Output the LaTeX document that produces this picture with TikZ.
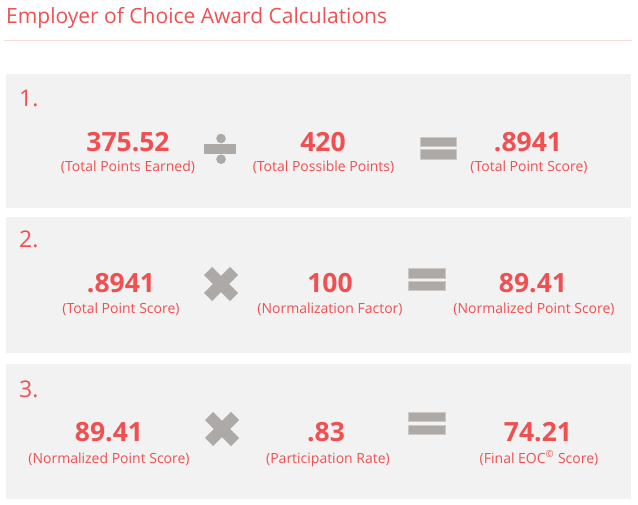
\documentclass[tikz,border=0pt]{standalone}
\usepackage{fontspec}
\setmainfont{Open Sans}
\usetikzlibrary{positioning}

\definecolor{eocred}{RGB}{240,80,82}
\definecolor{panelgray}{RGB}{242,242,242}
\definecolor{opgray}{RGB}{173,169,166}
\definecolor{opedge}{RGB}{203,200,198}
\definecolor{rulepink}{RGB}{250,220,218}

\tikzset{
  panel/.style={fill=panelgray, draw=none},
  value/.style={text=eocred, font=\fontsize{26.5}{30}\selectfont\bfseries, inner sep=0pt, anchor=base},
  caption/.style={text=eocred, font=\fontsize{14}{17}\selectfont, inner sep=0pt, anchor=base},
  stepno/.style={text=eocred, font=\fontsize{23}{27}\selectfont, inner sep=0pt, anchor=base west},
  opbar/.style={fill=opgray, draw=opedge, line width=0.8pt},
  opcross/.style={draw=opgray, line width=11.5pt, line cap=butt},
}

\begin{document}
\begin{tikzpicture}[x=1pt,y=-1pt]
    \useasboundingbox (0,0) rectangle (638,505);

    % Title and rule
    \node (title) [text=eocred, font=\fontsize{21}{25}\selectfont, inner sep=0pt, anchor=base west] at (6,24) {Employer of Choice Award Calculations};
    \draw [rulepink, line width=0.8pt] (4,40) -- (632,40);

    % Panels
    \fill [panel] (6,74) rectangle (631,208);
    \fill [panel] (6,217) rectangle (631,353);
    \fill [panel] (6,364) rectangle (631,499);

    % Step numbers
    \node (step1) [stepno] at (19,107) {1.};
    \node (step2) [stepno] at (19,248) {2.};
    \node (step3) [stepno] at (19,398) {3.};

    % Row 1: division
    \node (earned)    [value]   at (128,152)   {375.52};
    \node (earnedlbl) [caption] at (128,172) {(Total Points Earned)};
    \node (possible)    [value]   at (323,152)   {420};
    \node (possiblelbl) [caption] at (323.5,172) {(Total Possible Points)};
    \node (score1)    [value]   at (528,152)   {.8941};
    \node (score1lbl) [caption] at (529,172) {(Total Point Score)};

    \fill [opgray] (204,144) rectangle (236,154);
    \fill [opgray] (221,138.5) circle (4.8);
    \fill [opgray] (221,159.2) circle (4.8);

    \draw [opbar] (420,137) rectangle (456.5,146.5);
    \draw [opbar] (420,149.5) rectangle (456.5,159.5);

    % Row 2: multiplication
    \node (score2)    [value]   at (121,293)   {.8941};
    \node (score2lbl) [caption] at (121,314) {(Total Point Score)};
    \node (factor)    [value]   at (330,293)   {100};
    \node (factorlbl) [caption] at (330,314) {(Normalization Factor)};
    \node (norm2)    [value]   at (533,293)   {89.41};
    \node (norm2lbl) [caption] at (534,314) {(Normalized Point Score)};

    \draw [opcross] (208,271) -- (234,297);
    \draw [opcross] (208,297) -- (234,271);

    \draw [opbar] (408,268.5) rectangle (445,278);
    \draw [opbar] (408,281) rectangle (445,290.5);

    % Row 3: multiplication
    \node (norm3)    [value]   at (109,442)   {89.41};
    \node (norm3lbl) [caption] at (109,463) {(Normalized Point Score)};
    \node (rate)    [value]   at (326,442)   {.83};
    \node (ratelbl) [caption] at (328,463) {(Participation Rate)};
    \node (final)    [value]   at (538,442)   {74.21};
    \node (finallbl) [caption] at (539,463) {(Final EOC\textsuperscript{©} Score)};

    \draw [opcross] (209,416) -- (235,442);
    \draw [opcross] (209,442) -- (235,416);

    \draw [opbar] (408,412.5) rectangle (445,421.5);
    \draw [opbar] (408,425) rectangle (445,434.5);
\end{tikzpicture}
\end{document}
